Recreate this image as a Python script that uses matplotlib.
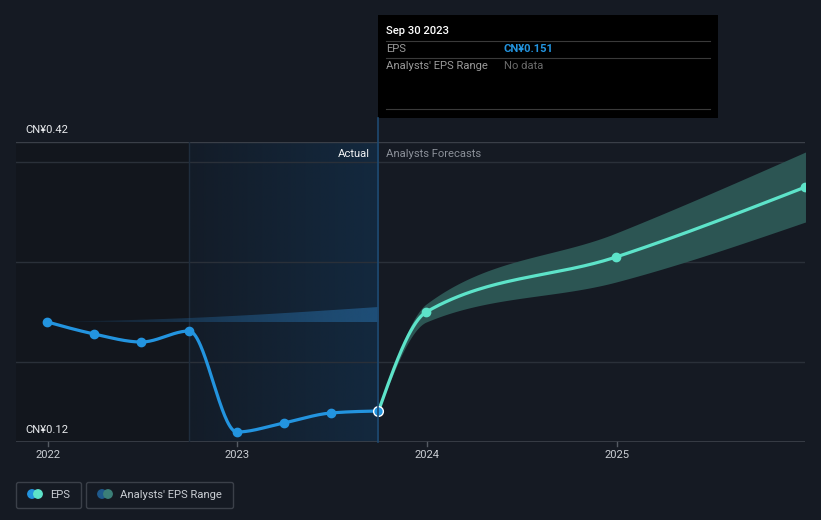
import numpy as np
import matplotlib
matplotlib.use("Agg")
import matplotlib.pyplot as plt
import matplotlib.dates as mdates
from matplotlib.patches import Rectangle, Circle, FancyBboxPatch
from matplotlib.colors import to_rgb

plt.rcParams['font.family'] = ['Roboto', 'DejaVu Sans']

# ---------------- data ----------------
actual_dates = ['2021-12-31', '2022-03-31', '2022-06-30', '2022-09-30',
                '2022-12-31', '2023-03-31', '2023-06-30', '2023-09-30']
actual_eps = [0.240, 0.228, 0.220, 0.231, 0.130, 0.139, 0.149, 0.151]

forecast_dates = ['2023-09-30', '2023-12-31', '2024-12-31', '2025-12-31']
forecast_eps = [0.151, 0.250, 0.305, 0.375]
forecast_low = [0.151, 0.240, 0.280, 0.340]
forecast_high = [0.151, 0.258, 0.329, 0.410]

past_range_dates = ['2021-12-31', '2022-09-30', '2023-09-30']
past_range_low = [0.240, 0.240, 0.240]
past_range_high = [0.240, 0.244, 0.255]

year_ticks = ['2022', '2023', '2024', '2025']
y_labels = ['CN¥0.12', 'CN¥0.42']
y_label_vals = [0.12, 0.42]
grid_vals = [0.20, 0.30, 0.40]

tooltip_date = 'Sep 30 2023'
tooltip_eps = 'CN¥0.151'

# ---------------- helpers ----------------
def dn(s):
    return mdates.date2num(np.datetime64(s))

def monotone(x, y, n=60):
    x = np.asarray(x, float); y = np.asarray(y, float)
    k = len(x)
    h = np.diff(x); s = np.diff(y) / h
    m = np.zeros(k)
    if k < 3:
        m[:] = s[0]
    else:
        for i in range(1, k - 1):
            p = (s[i - 1] * h[i] + s[i] * h[i - 1]) / (h[i - 1] + h[i])
            m[i] = (np.sign(s[i - 1]) + np.sign(s[i])) * min(abs(s[i - 1]), abs(s[i]), 0.5 * abs(p))
        m[0] = (3 * s[0] - m[1]) / 2
        m[-1] = (3 * s[-1] - m[-2]) / 2
    xs, ys = [], []
    for i in range(k - 1):
        t = np.linspace(0, 1, n)
        h00 = 2 * t**3 - 3 * t**2 + 1
        h10 = t**3 - 2 * t**2 + t
        h01 = -2 * t**3 + 3 * t**2
        h11 = t**3 - t**2
        xs.append(x[i] + t * h[i])
        ys.append(h00 * y[i] + h10 * h[i] * m[i] + h01 * y[i + 1] + h11 * h[i] * m[i + 1])
    return np.concatenate(xs), np.concatenate(ys)

# ---------------- figure ----------------
W, H = 821, 520
BG = '#151a23'
FS = 8.1
fig = plt.figure(figsize=(W / 100, H / 100), dpi=100, facecolor=BG)

L, R, T, B = 16, 805, 142, 442
ax = fig.add_axes([L / W, (H - B) / H, (R - L) / W, (B - T) / H])
ax.set_facecolor(BG)
ppd = 189.5 / 365.25
x_ref = dn('2022-01-01')
ax.set_xlim(x_ref - (48 - L) / ppd, x_ref + (R - 48) / ppd)
ax.set_ylim(0.12, 0.42)
for sp in ax.spines.values():
    sp.set_visible(False)
ax.set_xticks([]); ax.set_yticks([])

x_past_start = dn('2022-09-30')
x_now = dn('2023-09-30')
xl = ax.get_xlim()

# dark region
ax.axvspan(xl[0], x_past_start, color='#12161d', zorder=0, lw=0)
# blue gradient region
c0 = np.array(to_rgb('#131c28')); c1 = np.array(to_rgb('#13293f'))
g = np.linspace(0, 1, 512)
grad = (c0[None, :] * (1 - g[:, None]) + c1[None, :] * g[:, None])[None, :, :]
ax.imshow(grad, extent=[x_past_start, x_now, 0.12, 0.42], aspect='auto', zorder=0.5,
          interpolation='bilinear')
ax.set_xlim(xl); ax.set_ylim(0.12, 0.42)

# gridlines
for gv in grid_vals:
    ax.axhline(gv, color='#2a3039', lw=1, zorder=1)
ax.axhline(0.42, color='#3a3f48', lw=1, zorder=1)
ax.axhline(0.12, color='#3d424b', lw=1.2, zorder=1)

ax.axvline(x_past_start, color='#1f2d3d', lw=1, zorder=1)

# past analysts range band with gradient
pxs = [dn(d) for d in past_range_dates]
bx, bh = monotone(pxs, past_range_high)
_, bl = monotone(pxs, past_range_low)
poly = ax.fill_between(bx, bl, bh, color='none', lw=0)
bc = np.array(to_rgb('#1f4f78'))
ramp = np.zeros((1, 256, 4)); ramp[..., :3] = bc; ramp[..., 3] = np.linspace(0.0, 1.0, 256) ** 0.8
im = ax.imshow(ramp, extent=[pxs[0], pxs[-1], 0.12, 0.42], aspect='auto', zorder=2,
               interpolation='bilinear')
im.set_clip_path(poly.get_paths()[0], transform=ax.transData)
ax.set_xlim(xl); ax.set_ylim(0.12, 0.42)

# forecast band
fxs = [dn(d) for d in forecast_dates]
fbx, fbl = monotone(fxs, forecast_low)
_, fbh = monotone(fxs, forecast_high)
ax.fill_between(fbx, fbl, fbh, color='#2c5553', lw=0, zorder=2)

# lines
BLUE = '#2394df'
TEAL = '#5de3c9'
axs_ = [dn(d) for d in actual_dates]
lx, ly = monotone(axs_, actual_eps)
ax.plot(lx, ly, color=BLUE, lw=2.3, zorder=4, solid_capstyle='round')
ax.plot(axs_[:-1], actual_eps[:-1], 'o', color=BLUE, ms=6, zorder=5, mec=BLUE)
fx, fy = monotone(fxs, forecast_eps)
ax.plot(fx, fy, color=TEAL, lw=2.3, zorder=4, solid_capstyle='round')
ax.plot(fxs[1:], forecast_eps[1:], 'o', color=TEAL, ms=6, zorder=5, mec=TEAL)
ax.plot([axs_[-1]], [actual_eps[-1]], 'o', color=BLUE, ms=7, mec='white', mew=1.0, zorder=6)

# ---------------- overlay (pixel coordinates) ----------------
ov = fig.add_axes([0, 0, 1, 1], facecolor='none')
ov.set_xlim(0, W); ov.set_ylim(H, 0); ov.axis('off')
ov.set_zorder(10)

now_px = 48 + (x_now - x_ref) * ppd
ov.plot([now_px, now_px], [118, B], color='#1e4a72', lw=1.2)

# year ticks and labels
for yt in year_ticks:
    xp = 48 + (dn(yt + '-01-01') - x_ref) * ppd
    ov.plot([xp, xp], [B, B + 4], color='#555b63', lw=1)
    ov.text(xp, 455, yt, color='#c9cdd3', fontsize=FS, ha='center', va='center')

for lab, v in zip(y_labels, y_label_vals):
    yp = B - (v - 0.12) * 1000
    ov.text(25, yp - 12, lab, color='#e8eaed', fontsize=FS, ha='left', va='center')

ov.text(370, 154, 'Actual', color='#f0f2f4', fontsize=FS, ha='right', va='center')
ov.text(386, 154, 'Analysts Forecasts', color='#8b9099', fontsize=FS, ha='left', va='center')

# tooltip
ov.add_patch(Rectangle((378, 15), 340, 103, facecolor='black', edgecolor='none'))
ov.plot([386, 710], [41, 41], color='#3a3a3a', lw=0.8)
ov.plot([386, 710], [58, 58], color='#3a3a3a', lw=0.8)
ov.plot([386, 710], [109, 109], color='#3a3a3a', lw=0.8)
ov.text(386, 31, tooltip_date, color='white', fontsize=FS, ha='left', va='center', weight='medium')
ov.text(386, 49, 'EPS', color='#9a9a9a', fontsize=FS, ha='left', va='center')
ov.text(504, 49, tooltip_eps, color='#2394df', fontsize=FS, ha='left', va='center', weight='bold')
ov.text(386, 66, "Analysts' EPS Range", color='#9a9a9a', fontsize=FS, ha='left', va='center')
ov.text(504, 66, 'No data', color='#6a6a6a', fontsize=FS, ha='left', va='center')

# legend
ov.add_patch(FancyBboxPatch((16.5, 482.5), 65, 26, boxstyle='round,pad=0,rounding_size=2',
                            facecolor='none', edgecolor='#3b4049', lw=1))
ov.add_patch(Circle((32, 494), 4.2, color=BLUE))
ov.add_patch(Circle((38, 494), 4.2, color=TEAL))
ov.text(50, 494.5, 'EPS', color='#c9cdd3', fontsize=FS, ha='left', va='center')
ov.add_patch(FancyBboxPatch((86.5, 482.5), 147, 26, boxstyle='round,pad=0,rounding_size=2',
                            facecolor='none', edgecolor='#3b4049', lw=1))
ov.add_patch(Circle((102, 494), 4.2, color='#1f5a8c'))
ov.add_patch(Circle((108, 494), 4.2, color='#3b7f78'))
ov.text(120, 494.5, "Analysts' EPS Range", color='#c9cdd3', fontsize=FS, ha='left', va='center')

fig.savefig('out.png', dpi=100, facecolor=BG)
